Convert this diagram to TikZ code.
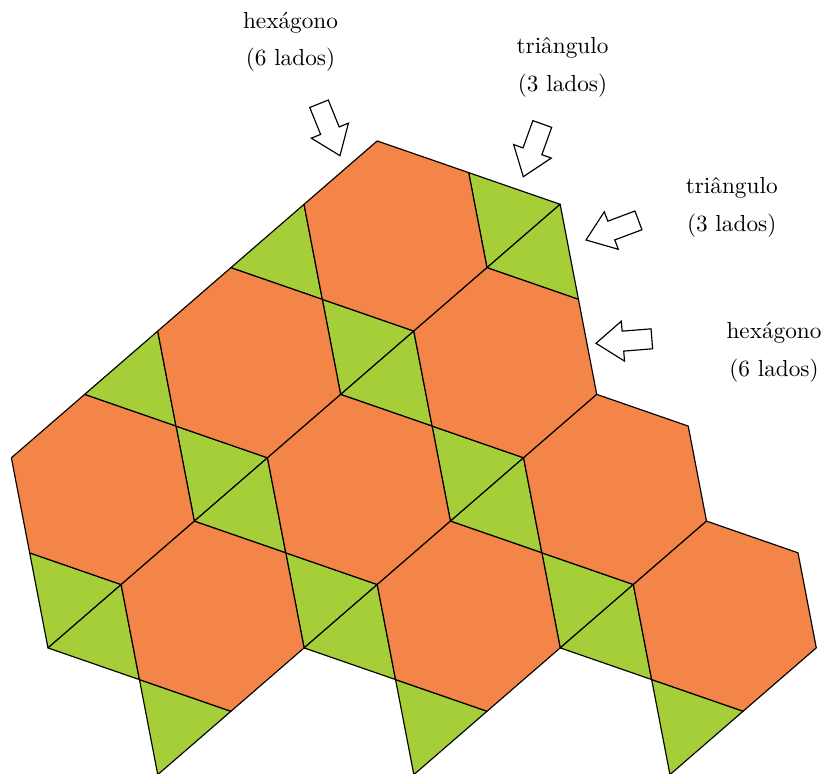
\documentclass[tikz,border=0pt]{standalone}
\usetikzlibrary{calc}
\definecolor{hexorange}{RGB}{244,133,72}
\definecolor{trigreen}{RGB}{166,206,57}
\tikzset{
  hexface/.style={fill=hexorange, draw=black, line width=0.5pt, line join=round},
  triface/.style={fill=trigreen, draw=black, line width=0.5pt, line join=round},
  blockarrow/.style={fill=white, draw=black, line width=0.5pt, line join=miter},
  lbl/.style={anchor=base, inner sep=0pt, font=\normalsize}
}
\newcommand{\HexAt}[1]{\draw[hexface, shift={(#1)}] (19.1:96.8) -- (79.1:96.8) -- (139.1:96.8) -- (199.1:96.8) -- (259.1:96.8) -- (319.1:96.8) -- cycle;}
\newcommand{\TriAt}[2]{\draw[triface, shift={(#1)}] (#2:96.8) -- ({#2+60}:96.8) -- ({#2+30}:167.66) -- cycle;}
\newcommand{\ArrowAt}[3]{\draw[blockarrow, shift={(#1,#2)}, rotate=-#3] (0,0) -- (-27,20) -- (-27,10) -- (-56,10) -- (-56,-10) -- (-27,-10) -- (-27,-20) -- cycle;}
\begin{document}
\begin{tikzpicture}[x=0.43pt, y=-0.43pt]
\useasboundingbox (0,0) rectangle (824,774);
% hexagon centres
\coordinate (C1) at (395.5,236);
\coordinate (C2) at ($(C1)+(49.1:167.66)$);
\coordinate (C5) at ($(C2)+(49.1:167.66)$);
\coordinate (C9) at ($(C5)+(49.1:167.66)$);
\coordinate (C3) at ($(C1)+(139.1:193.6)$);
\coordinate (C4) at ($(C3)+(49.1:167.66)$);
\coordinate (C8) at ($(C4)+(49.1:167.66)$);
\coordinate (C6) at ($(C3)+(139.1:193.6)$);
\coordinate (C7) at ($(C6)+(49.1:167.66)$);
% triangles
\foreach \c in {C1,C2,C3,C4,C5,C6,C7,C8,C9} {\TriAt{\c}{79.1}}
\foreach \c in {C1,C2,C3,C4,C5,C7,C8,C9} {\TriAt{\c}{139.1}}
\TriAt{C1}{319.1}
\TriAt{C2}{259.1}
% hexagons
\foreach \c in {C1,C2,C3,C4,C5,C6,C7,C8,C9} {\HexAt{\c}}
% arrows
\ArrowAt{340}{155.7}{68}
\ArrowAt{523.3}{176.7}{109.8}
\ArrowAt{586}{240}{159.5}
\ArrowAt{596}{343.3}{175.4}
% labels
\node[lbl] (h1a) at (290.5,28.5) {hexágono};
\node[lbl] (h1b) at (290.5,66) {(6 lados)};
\node[lbl] (t1a) at (562.5,53.3) {triângulo};
\node[lbl] (t1b) at (562.5,91.7) {(3 lados)};
\node[lbl] (t2a) at (731.7,193.3) {triângulo};
\node[lbl] (t2b) at (731.7,231.7) {(3 lados)};
\node[lbl] (h2a) at (774,338.3) {hexágono};
\node[lbl] (h2b) at (774,376.7) {(6 lados)};
\end{tikzpicture}
\end{document}
